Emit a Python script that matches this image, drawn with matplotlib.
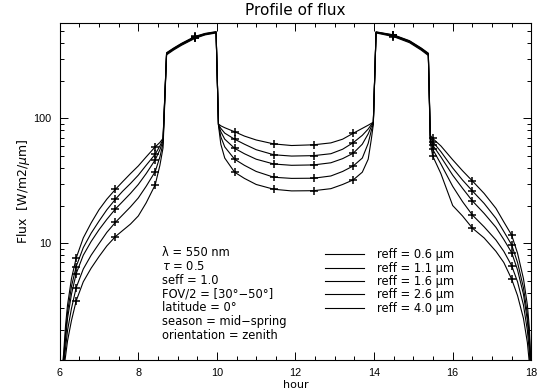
import matplotlib
matplotlib.use('Agg')
import matplotlib.pyplot as plt
import matplotlib.ticker as ticker
import numpy as np

plt.rcParams['font.family'] = ['DejaVu Sans']
plt.rcParams['mathtext.fontset'] = 'dejavusans'

# -------------------------- data --------------------------
hours = [6.05, 6.1, 6.15, 6.2, 6.3, 6.42, 6.6, 6.8, 7.0, 7.2, 7.42, 7.6, 7.8, 8.0, 8.2,
         8.43, 8.55, 8.63,
         8.72, 8.9, 9.1, 9.44, 9.7, 9.98,
         10.04, 10.1, 10.2, 10.45, 10.7, 11.0, 11.45, 11.9, 12.46, 12.9, 13.2, 13.47,
         13.7, 13.85, 13.93, 13.98,
         14.05, 14.49, 14.9, 15.2, 15.38,
         15.43, 15.49, 15.7, 16.0, 16.25, 16.5, 16.8, 17.1, 17.3, 17.5, 17.65, 17.8,
         17.9, 17.95, 17.99]

flux_r06 = [0.9, 1.3, 2.2, 3.2, 5.2, 7.6, 11.0, 14.5, 18.5, 22.5, 27.0, 31.0, 36.0, 41.5, 49.0,
            59.0, 64.0, 69.0,
            335, 365, 398, 452, 478, 494,
            90, 87, 84, 78, 72, 67, 62.3, 60.5, 61.3, 63.5, 68, 75.9,
            83, 88, 91, 93,
            492, 466, 418, 365, 332,
            73, 69, 60, 46.5, 38, 31.5, 25, 19, 14.8, 11.6, 8.3, 5.2,
            3.2, 2.1, 1.1]
flux_r11 = [0.85, 1.2, 1.9, 2.8, 4.5, 6.5, 9.2, 12.0, 15.0, 18.5, 22.5, 26.0, 30.0, 35.0, 42.0,
            51.5, 60.0, 68.0,
            332, 362, 395, 448, 475, 491,
            89, 83, 76, 68, 62, 56, 51, 49.8, 50.2, 52, 56.5, 63.8,
            73, 82, 89, 92,
            490, 463, 415, 362, 329,
            71, 65, 54, 40, 32, 26.2, 20.8, 15.8, 12.4, 9.7, 7.0, 4.4,
            2.7, 1.8, 1.0]
flux_r16 = [0.8, 1.15, 1.7, 2.5, 3.9, 5.7, 8.0, 10.3, 12.8, 15.5, 18.8, 21.5, 25.0, 29.5, 36.0,
            46.4, 56.0, 66.0,
            330, 360, 392, 445, 472, 489,
            89, 78, 68, 57.5, 52, 47, 43, 42, 42.3, 44, 47.5, 52.5,
            62, 75, 86, 91,
            488, 460, 412, 359, 326,
            69, 61, 49, 35, 27.5, 21.8, 17.3, 13.4, 10.7, 8.4, 6.1, 3.9,
            2.4, 1.6, 0.9]
flux_r26 = [0.75, 1.05, 1.45, 2.0, 3.0, 4.4, 6.2, 8.0, 9.9, 12.2, 14.7, 16.8, 19.5, 23.0, 28.5,
            37.4, 49.0, 63.0,
            327, 357, 389, 441, 469, 486,
            89, 71, 59, 47, 42, 37.5, 33.7, 33, 33.1, 34.5, 37.5, 41.5,
            48, 63, 80, 90,
            486, 456, 408, 356, 323,
            67, 56.5, 43, 28.5, 21.5, 16.8, 13.5, 10.6, 8.6, 6.6, 4.9, 3.2,
            2.0, 1.35, 0.8]
flux_r40 = [0.7, 0.95, 1.25, 1.65, 2.4, 3.45, 4.9, 6.3, 7.8, 9.5, 11.3, 12.6, 14.2, 16.5, 21.0,
            29.3, 42.0, 58.0,
            322, 352, 384, 436, 465, 482,
            88, 62, 48, 37, 33, 29.5, 27, 26.2, 26.3, 27.3, 29.5, 32.1,
            37, 47, 68, 89,
            482, 451, 403, 351, 318,
            64, 50, 36, 20, 16.5, 13.2, 11.0, 8.6, 7.0, 5.15, 3.8, 2.5,
            1.6, 1.1, 0.7]

series = [flux_r06, flux_r11, flux_r16, flux_r26, flux_r40]
labels = ['reff = 0.6 \u03bcm', 'reff = 1.1 \u03bcm', 'reff = 1.6 \u03bcm',
          'reff = 2.6 \u03bcm', 'reff = 4.0 \u03bcm']
mark_hours = [6.42, 7.42, 8.43, 9.44, 10.45, 11.45, 12.46, 13.47, 14.49, 15.49, 16.5, 17.5]

info_lines = ['\u03bb = 550 nm', r'$\tau$ = 0.5', 'seff = 1.0',
              'FOV/2 = [30\u00b0\u221250\u00b0]', 'latitude = 0\u00b0',
              'season = mid\u2212spring', 'orientation = zenith']

# -------------------------- plot --------------------------
fig = plt.figure(figsize=(5.47, 3.92), dpi=100)
ax = fig.add_axes([0.1091, 0.0829, 0.8622, 0.8591])

mark_idx = [hours.index(h) for h in mark_hours]
x = np.array(hours)
handles = []
for vals, lab in zip(series, labels):
    v = np.array(vals)
    ln, = ax.plot(x, v, color='black', lw=0.8, label=lab)
    ax.plot(x[mark_idx], v[mark_idx], ls='none', marker='+', ms=6, mew=1.1, color='black')
    handles.append(ln)

ax.set_yscale('log')
ax.set_xlim(6, 18)
ax.set_ylim(1.17, 582)

ax.xaxis.set_major_locator(ticker.MultipleLocator(2))
ax.xaxis.set_minor_locator(ticker.MultipleLocator(0.5))
ax.yaxis.set_major_locator(ticker.LogLocator(base=10))
ax.yaxis.set_minor_locator(ticker.LogLocator(base=10, subs=np.arange(2, 10)))
ax.yaxis.set_major_formatter(ticker.FuncFormatter(lambda v, p: f'{v:g}'))
ax.yaxis.set_minor_formatter(ticker.NullFormatter())

ax.tick_params(which='both', direction='in', top=True, right=True, labelsize=7.8, width=0.7)
ax.tick_params(which='major', length=5.5, pad=6)
ax.tick_params(which='minor', length=3)
for s in ax.spines.values():
    s.set_linewidth(0.8)
for t in ax.get_xticklabels() + ax.get_yticklabels():
    t.set_family('Liberation Sans')

ax.set_title('Profile of flux', fontsize=11, pad=5.5)
ax.set_xlabel('hour', fontsize=8, labelpad=1.5)
ax.set_ylabel(r'Flux  [W/m2/$\mu$m]', fontsize=9, labelpad=1)

for i, t in enumerate(info_lines):
    ax.text(0.217, 0.318 - i * 0.041, t, transform=ax.transAxes, fontsize=8.3,
            va='center', ha='left')

ax.legend(handles=handles, loc='upper left', bbox_to_anchor=(0.563, 0.330),
          frameon=False, fontsize=8.3, handlelength=3.35, handletextpad=1.1,
          labelspacing=0.03, borderaxespad=0, borderpad=0)

fig.savefig('out.png', dpi=100)
